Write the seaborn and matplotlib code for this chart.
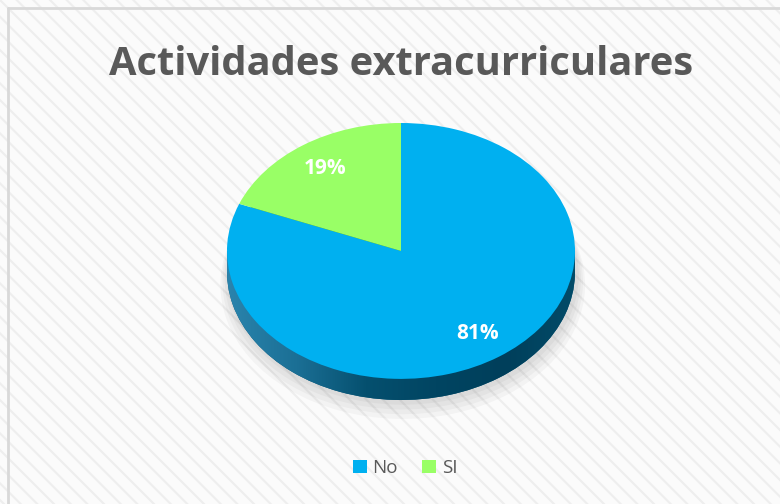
import matplotlib
matplotlib.use("Agg")
import matplotlib.pyplot as plt
import seaborn as sns
import numpy as np
from matplotlib.patches import Rectangle
from matplotlib.lines import Line2D
from matplotlib.colors import LinearSegmentedColormap

# data
labels = ["No", "SI"]
values = [81, 19]
colors = ["#00B0F0", "#99FF66"]
side_colors = ["#0a5677", "#3c8a2a"]
title = "Actividades extracurriculares"

sns.set_theme(style="white")
plt.rcParams["font.family"] = ["Open Sans", "DejaVu Sans"]
plt.rcParams["hatch.linewidth"] = 1.5

fig = plt.figure(figsize=(7.8, 5.04), dpi=100)
fig.patch.set_facecolor("#fbfbfb")

# background stripes and the border (only left and top are visible)
bg = Rectangle((0, 0), 1, 1, transform=fig.transFigure, facecolor="#fbfbfb",
               edgecolor="#eeeeee", hatch="\\\\", linewidth=0, zorder=-10)
fig.patches.append(bg)
bx, by = 8 / 780, 1 - 8 / 504
fig.add_artist(Line2D([bx, bx], [0, by], transform=fig.transFigure,
                      color="#d9d9d9", linewidth=2))
fig.add_artist(Line2D([bx, 1], [by, by], transform=fig.transFigure,
                      color="#d9d9d9", linewidth=2))

fig.text(401 / 780, 1 - 75 / 504, title, ha="center", va="baseline",
         fontsize=28.7, fontweight="bold", color="#595959")

depth = 0.165
ax = fig.add_axes([227 / 780, 104 / 504, 348 / 780, 277 / 504])
ax.set_facecolor("none")

# soft shadow under the pie
for k in range(4):
    ax.pie(values, radius=1.0 + 0.012 * (k + 1), center=(0.01, -depth - 0.025 * (k + 1)),
           colors=["#000000"] * len(values), startangle=90, counterclock=False,
           wedgeprops=dict(linewidth=0, alpha=0.03, clip_on=False))

# side of the pie: lower copy plus the connecting band, shaded with a gradient
bottom_wedges, _ = ax.pie(values, radius=1.0, center=(0, -depth), colors=side_colors,
                          startangle=90, counterclock=False,
                          wedgeprops=dict(linewidth=0, clip_on=False))
band = Rectangle((-1, -depth), 2, depth, facecolor=side_colors[0], linewidth=0)
ax.add_patch(band)

side_cmap = LinearSegmentedColormap.from_list(
    "side", ["#2a84ad", "#1b6f95", "#05506f", "#014562", "#003f5b", "#034b68"])
grad = np.linspace(0, 1, 256).reshape(1, -1)
for p in [bottom_wedges[0], band]:
    im = ax.imshow(grad, cmap=side_cmap, extent=(-1, 1, -1 - depth, 0),
                   aspect="auto", zorder=p.get_zorder() + 0.01)
    im.set_clip_path(p)

# top face
wedges, texts, autotexts = ax.pie(
    values, radius=1.0, center=(0, 0), colors=colors, startangle=90,
    counterclock=False, autopct="%1.0f%%", pctdistance=0.78,
    wedgeprops=dict(linewidth=0, zorder=5),
    textprops=dict(color="white", fontsize=15, fontweight="bold"))
for t in autotexts:
    t.set_zorder(6)

ax.set_aspect("auto")
ax.set_xlim(-1, 1)
ax.set_ylim(-1 - depth, 1)
ax.axis("off")

fig.legend(wedges, labels, loc="center", bbox_to_anchor=(405 / 780, 1 - 468 / 504),
           ncol=2, frameon=False, fontsize=13.5, labelcolor="#595959",
           handlelength=0.75, handleheight=0.75, handletextpad=0.3, columnspacing=1.3)

fig.savefig("out.png", dpi=100)
